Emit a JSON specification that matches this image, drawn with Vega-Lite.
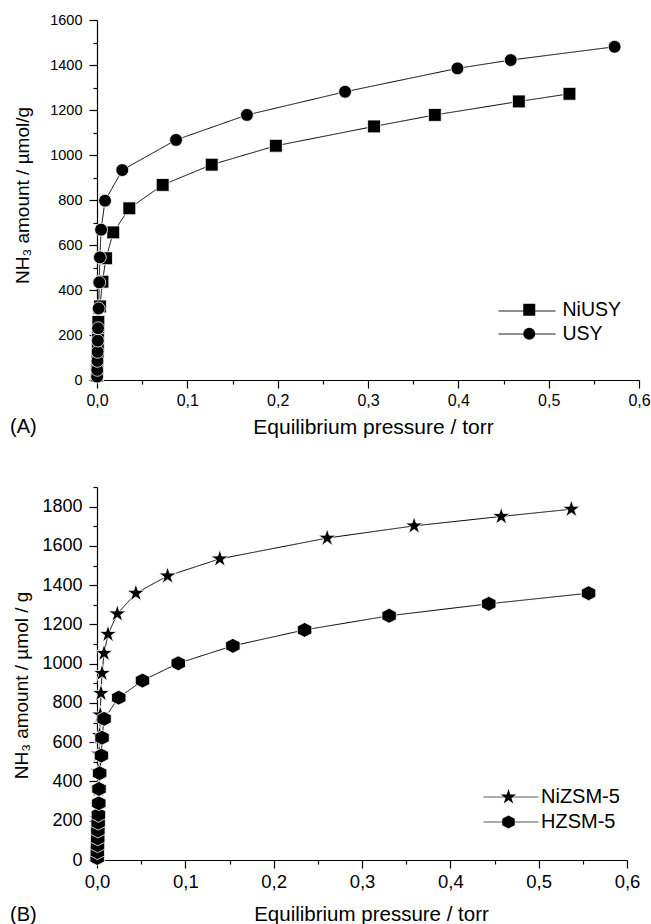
{
  "$schema": "https://vega.github.io/schema/vega-lite/v6.json",
  "background": "white",
  "padding": {"left": 10, "top": 12, "right": 5, "bottom": 5},
  "bounds": "flush",
  "spacing": 107,
  "resolve": {
    "scale": {"shape": "independent", "strokeDash": "independent"},
    "legend": {"shape": "independent", "strokeDash": "independent"}
  },
  "datasets": {
    "isoY": [
      {"sample": "NiUSY", "p": 0.0001, "v": 20},
      {"sample": "NiUSY", "p": 0.0003, "v": 50},
      {"sample": "NiUSY", "p": 0.0005, "v": 95},
      {"sample": "NiUSY", "p": 0.0007, "v": 125},
      {"sample": "NiUSY", "p": 0.0009, "v": 150},
      {"sample": "NiUSY", "p": 0.0011, "v": 205},
      {"sample": "NiUSY", "p": 0.0013, "v": 235},
      {"sample": "NiUSY", "p": 0.0015, "v": 258},
      {"sample": "NiUSY", "p": 0.0033, "v": 327},
      {"sample": "NiUSY", "p": 0.006, "v": 437},
      {"sample": "NiUSY", "p": 0.01, "v": 541},
      {"sample": "NiUSY", "p": 0.018, "v": 656},
      {"sample": "NiUSY", "p": 0.0358, "v": 763},
      {"sample": "NiUSY", "p": 0.0727, "v": 867},
      {"sample": "NiUSY", "p": 0.127, "v": 957},
      {"sample": "NiUSY", "p": 0.198, "v": 1041},
      {"sample": "NiUSY", "p": 0.3067, "v": 1127},
      {"sample": "NiUSY", "p": 0.374, "v": 1178},
      {"sample": "NiUSY", "p": 0.467, "v": 1238},
      {"sample": "NiUSY", "p": 0.523, "v": 1272},
      {"sample": "USY", "p": 0.0001, "v": 15},
      {"sample": "USY", "p": 0.0003, "v": 45},
      {"sample": "USY", "p": 0.0005, "v": 85},
      {"sample": "USY", "p": 0.0007, "v": 125},
      {"sample": "USY", "p": 0.0009, "v": 175},
      {"sample": "USY", "p": 0.0012, "v": 230},
      {"sample": "USY", "p": 0.0018, "v": 318},
      {"sample": "USY", "p": 0.0025, "v": 434},
      {"sample": "USY", "p": 0.0032, "v": 545},
      {"sample": "USY", "p": 0.0045, "v": 668},
      {"sample": "USY", "p": 0.0089, "v": 797},
      {"sample": "USY", "p": 0.028, "v": 933},
      {"sample": "USY", "p": 0.0875, "v": 1067},
      {"sample": "USY", "p": 0.166, "v": 1178},
      {"sample": "USY", "p": 0.2746, "v": 1281},
      {"sample": "USY", "p": 0.399, "v": 1385},
      {"sample": "USY", "p": 0.458, "v": 1422},
      {"sample": "USY", "p": 0.573, "v": 1481}
    ],
    "isoZSM": [
      {"sample": "NiZSM-5", "p": 0.0002, "v": 15},
      {"sample": "NiZSM-5", "p": 0.0004, "v": 50},
      {"sample": "NiZSM-5", "p": 0.0006, "v": 95},
      {"sample": "NiZSM-5", "p": 0.0008, "v": 150},
      {"sample": "NiZSM-5", "p": 0.001, "v": 210},
      {"sample": "NiZSM-5", "p": 0.0013, "v": 280},
      {"sample": "NiZSM-5", "p": 0.0016, "v": 360},
      {"sample": "NiZSM-5", "p": 0.002, "v": 450},
      {"sample": "NiZSM-5", "p": 0.0025, "v": 540},
      {"sample": "NiZSM-5", "p": 0.003, "v": 635},
      {"sample": "NiZSM-5", "p": 0.0037, "v": 739},
      {"sample": "NiZSM-5", "p": 0.0045, "v": 849},
      {"sample": "NiZSM-5", "p": 0.0057, "v": 951},
      {"sample": "NiZSM-5", "p": 0.008, "v": 1053},
      {"sample": "NiZSM-5", "p": 0.0125, "v": 1150},
      {"sample": "NiZSM-5", "p": 0.023, "v": 1254},
      {"sample": "NiZSM-5", "p": 0.044, "v": 1359},
      {"sample": "NiZSM-5", "p": 0.0799, "v": 1447},
      {"sample": "NiZSM-5", "p": 0.139, "v": 1534},
      {"sample": "NiZSM-5", "p": 0.2606, "v": 1640},
      {"sample": "NiZSM-5", "p": 0.359, "v": 1702},
      {"sample": "NiZSM-5", "p": 0.4576, "v": 1750},
      {"sample": "NiZSM-5", "p": 0.537, "v": 1787},
      {"sample": "HZSM-5", "p": 0.0002, "v": 10},
      {"sample": "HZSM-5", "p": 0.0004, "v": 40},
      {"sample": "HZSM-5", "p": 0.0006, "v": 75},
      {"sample": "HZSM-5", "p": 0.0008, "v": 110},
      {"sample": "HZSM-5", "p": 0.001, "v": 150},
      {"sample": "HZSM-5", "p": 0.0013, "v": 190},
      {"sample": "HZSM-5", "p": 0.0016, "v": 230},
      {"sample": "HZSM-5", "p": 0.002, "v": 289},
      {"sample": "HZSM-5", "p": 0.0023, "v": 362},
      {"sample": "HZSM-5", "p": 0.003, "v": 442},
      {"sample": "HZSM-5", "p": 0.005, "v": 532},
      {"sample": "HZSM-5", "p": 0.0057, "v": 623},
      {"sample": "HZSM-5", "p": 0.008, "v": 719},
      {"sample": "HZSM-5", "p": 0.0246, "v": 827},
      {"sample": "HZSM-5", "p": 0.0515, "v": 914},
      {"sample": "HZSM-5", "p": 0.092, "v": 1002},
      {"sample": "HZSM-5", "p": 0.1538, "v": 1091},
      {"sample": "HZSM-5", "p": 0.235, "v": 1172},
      {"sample": "HZSM-5", "p": 0.3307, "v": 1244},
      {"sample": "HZSM-5", "p": 0.4435, "v": 1305},
      {"sample": "HZSM-5", "p": 0.5565, "v": 1359}
    ]
  },
  "vconcat": [
    {
      "width": 542,
      "height": 360,
      "data": {"name": "isoY"},
      "title": {
        "text": "(A)", "orient": "bottom", "anchor": "start", "frame": "group",
        "dx": -87, "offset": -4, "baseline": "alphabetic",
        "font": "Liberation Sans", "fontSize": 20, "fontWeight": "normal", "color": "black"
      },
      "encoding": {
        "x": {
          "field": "p", "type": "quantitative",
          "scale": {"domain": [0, 0.6], "nice": false, "zero": false},
          "axis": {
            "title": "Equilibrium pressure / torr",
            "values": [0, 0.05, 0.1, 0.15, 0.2, 0.25, 0.3, 0.35, 0.4, 0.45, 0.5, 0.55, 0.6],
            "labelExpr": "round(datum.value * 100) % 10 === 0 ? replace(format(datum.value, '.1f'), '.', ',') : ''",
            "tickSize": {"condition": {"test": "round(datum.value * 100) % 10 !== 0", "value": 4}, "value": 8},
            "labelFontSize": 16, "labelPadding": 4, "labelFlush": false, "labelOverlap": false,
            "titleFontSize": 21, "titleX": 276, "titleY": 53, "titleBaseline": "alphabetic", "titleAlign": "center"
          }
        },
        "y": {
          "field": "v", "type": "quantitative",
          "scale": {"domain": [0, 1600], "nice": false},
          "axis": {
            "title": "NH₃ amount /  µmol/g",
            "values": [0, 100, 200, 300, 400, 500, 600, 700, 800, 900, 1000, 1100, 1200, 1300, 1400, 1500, 1600],
            "format": "d",
            "labelExpr": "datum.value % 200 === 0 ? datum.label : ''",
            "tickSize": {"condition": {"test": "datum.value % 200 !== 0", "value": 4}, "value": 8},
            "labelFontSize": 14.5, "labelPadding": 7, "labelFlush": false, "labelOverlap": false,
            "titleFontSize": 19, "titleX": -69, "titleY": 175, "titleAngle": 270, "titleBaseline": "alphabetic", "titleAlign": "center"
          }
        }
      },
      "layer": [
        {
          "mark": {"type": "line", "color": "black", "strokeWidth": 1},
          "encoding": {
            "detail": {"field": "sample"},
            "strokeDash": {
              "field": "sample", "type": "nominal",
              "scale": {"domain": ["USY", "NiUSY"], "range": [[1, 0], [1, 0]]},
              "legend": {
                "title": null, "orient": "none", "legendX": 401, "legendY": 262, "padding": 0,
                "values": ["USY"],
                "symbolType": "M-1,0H1M-1,0.807H1", "symbolSize": 3249, "symbolStrokeWidth": 1, "symbolStrokeColor": "black",
                "labelExpr": "''", "labelFontSize": 19.5
              }
            }
          }
        },
        {
          "mark": {"type": "point", "filled": true, "fill": "black", "opacity": 1, "stroke": "white", "strokeWidth": 0.8, "size": 165},
          "encoding": {
            "shape": {
              "field": "sample", "type": "nominal",
              "scale": {"domain": ["NiUSY", "USY"], "range": ["square", "circle"]},
              "legend": {
                "title": null, "orient": "none", "legendX": 422.5, "legendY": 280, "padding": 0,
                "symbolSize": 144, "symbolFillColor": "black", "symbolStrokeColor": "black", "symbolStrokeWidth": 1,
                "labelOffset": 23.5, "rowPadding": 3,
                "labelFont": "Liberation Sans", "labelFontSize": 19.5, "labelColor": "black"
              }
            }
          }
        }
      ]
    },
    {
      "width": 530,
      "height": 373,
      "data": {"name": "isoZSM"},
      "title": {
        "text": "(B)", "orient": "bottom", "anchor": "start", "frame": "group",
        "dx": -87, "offset": -4, "baseline": "alphabetic",
        "font": "Liberation Sans", "fontSize": 20, "fontWeight": "normal", "color": "black"
      },
      "encoding": {
        "x": {
          "field": "p", "type": "quantitative",
          "scale": {"domain": [0, 0.6], "nice": false, "zero": false},
          "axis": {
            "title": "Equilibrium pressure / torr",
            "values": [0, 0.05, 0.1, 0.15, 0.2, 0.25, 0.3, 0.35, 0.4, 0.45, 0.5, 0.55, 0.6],
            "labelExpr": "round(datum.value * 100) % 10 === 0 ? replace(format(datum.value, '.1f'), '.', ',') : ''",
            "tickSize": {"condition": {"test": "round(datum.value * 100) % 10 !== 0", "value": 4}, "value": 8},
            "labelFontSize": 18.5, "labelPadding": 4, "labelFlush": false, "labelOverlap": false,
            "titleFontSize": 20.5, "titleX": 274, "titleY": 60, "titleBaseline": "alphabetic", "titleAlign": "center"
          }
        },
        "y": {
          "field": "v", "type": "quantitative",
          "scale": {"domain": [0, 1900], "nice": false},
          "axis": {
            "title": "NH₃ amount / µmol / g",
            "values": [0, 100, 200, 300, 400, 500, 600, 700, 800, 900, 1000, 1100, 1200, 1300, 1400, 1500, 1600, 1700, 1800, 1900],
            "format": "d",
            "labelExpr": "datum.value % 200 === 0 ? datum.label : ''",
            "tickSize": {"condition": {"test": "datum.value % 200 !== 0", "value": 4}, "value": 8},
            "labelFontSize": 18, "labelPadding": 7, "labelFlush": false, "labelOverlap": false,
            "titleFontSize": 19, "titleX": -70, "titleY": 198, "titleAngle": 270, "titleBaseline": "alphabetic", "titleAlign": "center"
          }
        }
      },
      "layer": [
        {
          "mark": {"type": "line", "color": "black", "strokeWidth": 1},
          "encoding": {
            "detail": {"field": "sample"},
            "strokeDash": {
              "field": "sample", "type": "nominal",
              "scale": {"domain": ["HZSM-5", "NiZSM-5"], "range": [[1, 0], [1, 0]]},
              "legend": {
                "title": null, "orient": "none", "legendX": 386, "legendY": 282, "padding": 0,
                "values": ["HZSM-5"],
                "symbolType": "M-1,0H1M-1,0.909H1", "symbolSize": 3025, "symbolStrokeWidth": 1, "symbolStrokeColor": "#444444",
                "labelExpr": "''", "labelFontSize": 20
              }
            }
          }
        },
        {
          "mark": {"type": "point", "filled": true, "fill": "black", "opacity": 1, "stroke": "white", "strokeWidth": 0.8, "size": 340},
          "encoding": {
            "shape": {
              "field": "sample", "type": "nominal",
              "scale": {
                "domain": ["NiZSM-5", "HZSM-5"],
                "range": [
                  "M0,-1L0.2245,-0.309L0.951,-0.309L0.3633,0.118L0.5878,0.809L0,0.382L-0.5878,0.809L-0.3633,0.118L-0.951,-0.309L-0.2245,-0.309Z",
                  "M0,-0.807L0.781,-0.408L0.781,0.408L0,0.807L-0.781,0.408L-0.781,-0.408Z"
                ]
              },
              "legend": {
                "title": null, "orient": "none", "legendX": 401.5, "legendY": 300, "padding": 0,
                "symbolSize": 256, "symbolFillColor": "black", "symbolStrokeColor": "black", "symbolStrokeWidth": 1,
                "labelOffset": 22.5, "rowPadding": 5,
                "labelFont": "Liberation Sans", "labelFontSize": 20, "labelColor": "black"
              }
            }
          }
        }
      ]
    }
  ],
  "config": {
    "view": {"stroke": null},
    "font": "Liberation Sans",
    "axis": {
      "grid": false,
      "domainColor": "black",
      "domainWidth": 1.2,
      "tickColor": "black",
      "tickWidth": 1.2,
      "labelColor": "black",
      "labelFont": "Liberation Sans",
      "titleColor": "black",
      "titleFont": "Liberation Sans",
      "titleFontWeight": "normal"
    }
  }
}
